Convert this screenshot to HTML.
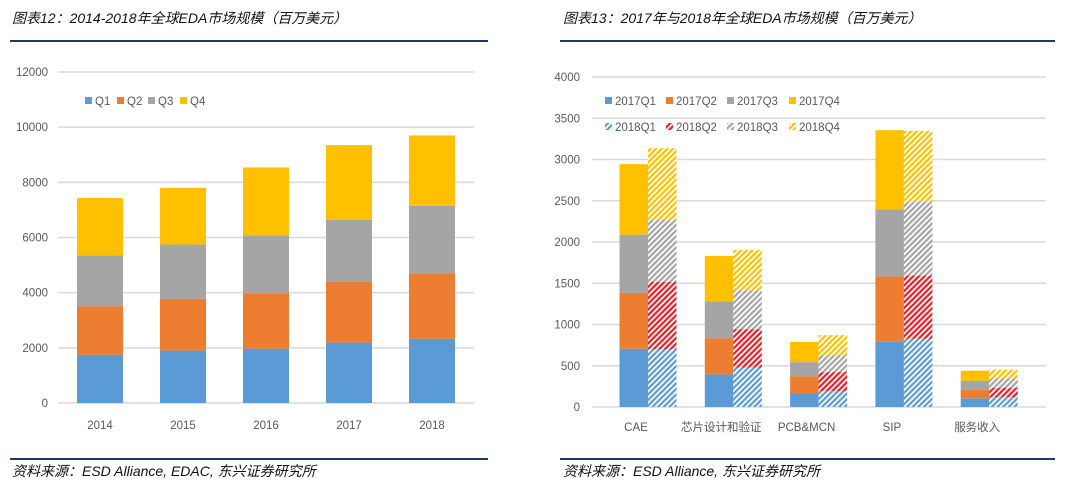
<!DOCTYPE html>
<html><head><meta charset="utf-8"><style>
body{margin:0;background:#fff;width:1073px;height:491px;overflow:hidden;font-family:"Liberation Sans","Noto Sans CJK SC",sans-serif}
svg{position:absolute;left:0;top:0}
.ttl{font-family:"Liberation Sans","Noto Sans CJK SC",sans-serif;font-style:italic;font-size:14px;fill:#111}
.tk{font-size:11.5px;fill:#595959}
</style></head><body>
<svg id="s" width="1073" height="491">
<defs>
<pattern id="h0" patternUnits="userSpaceOnUse" width="4" height="4" patternTransform="rotate(45)"><rect width="4" height="4" fill="#fff"/><rect width="2.2" height="4" fill="#5b9bd5"/></pattern>
<pattern id="h1" patternUnits="userSpaceOnUse" width="4" height="4" patternTransform="rotate(45)"><rect width="4" height="4" fill="#fff"/><rect width="2.2" height="4" fill="#ee1c25"/></pattern>
<pattern id="h2" patternUnits="userSpaceOnUse" width="4" height="4" patternTransform="rotate(45)"><rect width="4" height="4" fill="#fff"/><rect width="2.2" height="4" fill="#a5a5a5"/></pattern>
<pattern id="h3" patternUnits="userSpaceOnUse" width="4" height="4" patternTransform="rotate(45)"><rect width="4" height="4" fill="#fff"/><rect width="2.2" height="4" fill="#ffc000"/></pattern>
</defs>
<text class="ttl" x="12" y="23">图表12：2014-2018年全球EDA市场规模（百万美元）</text>
<rect x="10" y="40" width="478" height="2" fill="#1f3864"/>
<text class="ttl" x="563" y="23">图表13：2017年与2018年全球EDA市场规模（百万美元）</text>
<rect x="560" y="40" width="495" height="2" fill="#1f3864"/>
<rect x="10" y="458" width="478" height="2" fill="#1f3864"/>
<text class="ttl" x="12" y="476">资料来源：ESD Alliance, EDAC, 东兴证券研究所</text>
<rect x="560" y="458" width="495" height="2" fill="#1f3864"/>
<text class="ttl" x="563" y="476">资料来源：ESD Alliance, 东兴证券研究所</text>
<g id="L"></g><g id="R"></g>
</svg>
<script>
const years=["2014","2015","2016","2017","2018"];
const q1=[1750,1900,1970,2190,2330];
const q2=[1750,1880,2010,2210,2370];
const q3=[1850,1970,2100,2240,2450];
const q4=[2080,2050,2460,2710,2550];
const leftTicks=[0,2000,4000,6000,8000,10000,12000];
const cats=["CAE","芯片设计和验证","PCB&MCN","SIP","服务收入"];
const a1=[706,395,169,790,105];
const a2=[677,436,202,791,105];
const a3=[706,447,173,814,109];
const a4=[855,553,246,960,121];
const b1=[698,476,194,827,121];
const b2=[818,468,229,766,109];
const b3=[754,471,202,891,117];
const b4=[867,488,246,863,105];
const rightTicks=[0,500,1000,1500,2000,2500,3000,3500,4000];
const C=["#5b9bd5","#ed7d31","#a5a5a5","#ffc000"];
const NS="http://www.w3.org/2000/svg";
function mk(p,t,a,txt){const e=document.createElementNS(NS,t);for(const k in a)e.setAttribute(k,a[k]);if(txt!=null)e.textContent=txt;p.appendChild(e);return e;}
// left
const L=document.getElementById('L');
const ly=v=>403-v*(403-72)/12000, lx=i=>100+i*83;
leftTicks.forEach(t=>{
 const g=mk(L,'line',{x1:58,x2:474,y1:ly(t),y2:ly(t),stroke:'#d9d9d9','stroke-width':1.5});
 
 
 const tx=mk(L,'text',{x:48,y:ly(t)+4,'text-anchor':'end',class:'tk'},t);
 
 
});
years.forEach((y,i)=>{
 let c=0;
 [q1,q2,q3,q4].forEach((s,k)=>{
  const r=mk(L,'rect',{x:lx(i)-23,width:46,y:ly(c+s[i]),height:ly(c)-ly(c+s[i]),fill:C[k]});
  
  
  c+=s[i];
 });
 const t=mk(L,'text',{x:lx(i),y:429,'text-anchor':'middle',class:'tk'},y);
 
 
});
[["Q1",85],["Q2",117],["Q3",148],["Q4",180]].forEach((d,k)=>{
 const g=mk(L,'g',{});
 
 
 mk(g,'rect',{x:d[1],y:97,width:7,height:7,fill:C[k]});
 mk(g,'text',{x:d[1]+10,y:105,class:'tk'},d[0]);
});
// right
const R=document.getElementById('R');
const ry=v=>407-v*(407-77)/4000, rx=i=>648+i*85.3;
rightTicks.forEach(t=>{
 const g=mk(R,'line',{x1:592,x2:1046,y1:ry(t),y2:ry(t),stroke:'#d9d9d9','stroke-width':1.5});
 
 
 const tx=mk(R,'text',{x:580,y:ry(t)+4,'text-anchor':'end',class:'tk'},t);
 
 
});
cats.forEach((c,i)=>{
 let s=0;
 [a1,a2,a3,a4].forEach((arr,k)=>{
  const r=mk(R,'rect',{x:rx(i)-28.5,width:28.5,y:ry(s+arr[i]),height:ry(s)-ry(s+arr[i]),fill:C[k]});
  
  
  s+=arr[i];
 });
 s=0;
 [b1,b2,b3,b4].forEach((arr,k)=>{
  const r=mk(R,'rect',{x:rx(i),width:28.5,y:ry(s+arr[i]),height:ry(s)-ry(s+arr[i]),fill:'url(#h'+k+')'});
  
  
  s+=arr[i];
 });
 const t=mk(R,'text',{x:rx(i)-12,y:431,'text-anchor':'middle',class:'tk'},c);
 
 
});
const lx2=[605,666,727,789];
["2017Q1","2017Q2","2017Q3","2017Q4"].forEach((n,k)=>{
 const g=mk(R,'g',{});
 
 
 mk(g,'rect',{x:lx2[k],y:97,width:7,height:7,fill:C[k]});
 mk(g,'text',{x:lx2[k]+10,y:105,class:'tk'},n);
});
["2018Q1","2018Q2","2018Q3","2018Q4"].forEach((n,k)=>{
 const g=mk(R,'g',{});
 
 
 mk(g,'rect',{x:lx2[k],y:123,width:7,height:7,fill:'url(#h'+k+')'});
 mk(g,'text',{x:lx2[k]+10,y:131,class:'tk'},n);
});
</script>
</body></html>
